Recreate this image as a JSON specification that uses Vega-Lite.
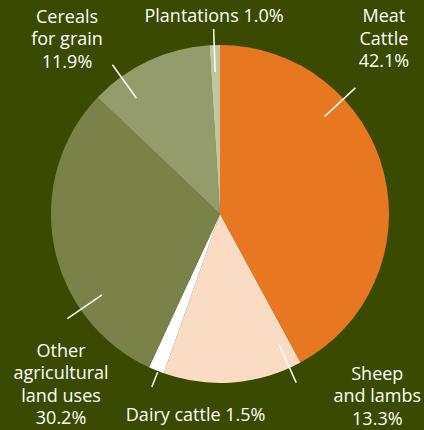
{
  "$schema": "https://vega.github.io/schema/vega-lite/v6.json",
  "width": 338,
  "height": 338,
  "autosize": {"type": "none"},
  "padding": {"left": 51, "top": 45, "right": 35, "bottom": 47},
  "background": "#3a4a00",
  "config": {"view": {"stroke": null}, "text": {"font": "Open Sans"}},
  "data": {
    "values": [
      {"category": "Meat cattle", "label": "Meat\nCattle\n42.1%", "pct": 42.1, "order": 1},
      {"category": "Sheep and lambs", "label": "Sheep\nand lambs\n13.3%", "pct": 13.3, "order": 2},
      {"category": "Dairy cattle", "label": "Dairy cattle 1.5%", "pct": 1.5, "order": 3},
      {"category": "Other agricultural land uses", "label": "Other\nagricultural\nland uses\n30.2%", "pct": 30.2, "order": 4},
      {"category": "Cereals for grain", "label": "Cereals\nfor grain\n11.9%", "pct": 11.9, "order": 5},
      {"category": "Plantations", "label": "Plantations 1.0%", "pct": 1.0, "order": 6}
    ]
  },
  "transform": [
    {"stack": "pct", "groupby": [], "sort": [{"field": "order", "order": "ascending"}], "as": ["t0", "t1"]},
    {"calculate": "(datum.t0 + datum.t1) / 2", "as": "mid"}
  ],
  "layer": [
    {
      "mark": {"type": "arc"},
      "encoding": {
        "theta": {"field": "t0", "type": "quantitative", "stack": null, "scale": {"domain": [0, 100], "range": [0, 6.283185307]}},
        "theta2": {"field": "t1"},
        "color": {
          "field": "category", "type": "nominal", "legend": null,
          "scale": {
            "domain": ["Meat cattle", "Sheep and lambs", "Dairy cattle", "Other agricultural land uses", "Cereals for grain", "Plantations"],
            "range": ["#e87722", "#fadbc4", "#ffffff", "#7a8249", "#959c6b", "#bfc7a3"]
          }
        }
      }
    },
    {
      "transform": [{"filter": "datum.order == 1"}],
      "layer": [
        {"mark": {"type": "text", "radius": 200, "dx": -30, "dy": -147.5, "fontSize": 18, "lineHeight": 22.5, "lineBreak": "\n", "color": "white", "align": "center", "baseline": "middle"},
         "encoding": {"theta": {"field": "mid", "type": "quantitative", "stack": null}, "text": {"field": "label"}}},
        {"mark": {"type": "arc", "radius": 185, "radius2": 143, "thetaOffset": -0.502, "theta2Offset": -0.502, "filled": false, "stroke": "white", "strokeWidth": 1.5},
         "encoding": {"theta": {"field": "mid", "type": "quantitative", "stack": null}, "theta2": {"field": "mid"}}}
      ]
    },
    {
      "transform": [{"filter": "datum.order == 2"}],
      "layer": [
        {"mark": {"type": "text", "radius": 195, "dx": 142, "dy": -33.5, "fontSize": 18, "lineHeight": 22.5, "lineBreak": "\n", "color": "white", "align": "center", "baseline": "middle"},
         "encoding": {"theta": {"field": "mid", "type": "quantitative", "stack": null}, "text": {"field": "label"}}},
        {"mark": {"type": "arc", "radius": 185, "radius2": 144, "thetaOffset": -0.346, "theta2Offset": -0.346, "filled": false, "stroke": "white", "strokeWidth": 1.5},
         "encoding": {"theta": {"field": "mid", "type": "quantitative", "stack": null}, "theta2": {"field": "mid"}}}
      ]
    },
    {
      "transform": [{"filter": "datum.order == 3"}],
      "layer": [
        {"mark": {"type": "text", "radius": 200, "dx": 51, "dy": 17, "fontSize": 18, "lineHeight": 22.5, "lineBreak": "\n", "color": "white", "align": "center", "baseline": "middle"},
         "encoding": {"theta": {"field": "mid", "type": "quantitative", "stack": null}, "text": {"field": "label"}}},
        {"mark": {"type": "arc", "radius": 186, "radius2": 170, "thetaOffset": -0.011, "theta2Offset": -0.011, "filled": false, "stroke": "white", "strokeWidth": 1.5},
         "encoding": {"theta": {"field": "mid", "type": "quantitative", "stack": null}, "theta2": {"field": "mid"}}}
      ]
    },
    {
      "transform": [{"filter": "datum.order == 4"}],
      "layer": [
        {"mark": {"type": "text", "radius": 200, "dx": 37.5, "dy": 100.5, "fontSize": 18, "lineHeight": 22.5, "lineBreak": "\n", "color": "white", "align": "center", "baseline": "middle"},
         "encoding": {"theta": {"field": "mid", "type": "quantitative", "stack": null}, "text": {"field": "label"}}},
        {"mark": {"type": "arc", "radius": 185, "radius2": 143, "thetaOffset": -0.412, "theta2Offset": -0.412, "filled": false, "stroke": "white", "strokeWidth": 1.5},
         "encoding": {"theta": {"field": "mid", "type": "quantitative", "stack": null}, "theta2": {"field": "mid"}}}
      ]
    },
    {
      "transform": [{"filter": "datum.order == 5"}],
      "layer": [
        {"mark": {"type": "text", "radius": 200, "dx": -68.4, "dy": -15.2, "fontSize": 18, "lineHeight": 22.5, "lineBreak": "\n", "color": "white", "align": "center", "baseline": "middle"},
         "encoding": {"theta": {"field": "mid", "type": "quantitative", "stack": null}, "text": {"field": "label"}}},
        {"mark": {"type": "arc", "radius": 184, "radius2": 143, "thetaOffset": -0.188, "theta2Offset": -0.188, "filled": false, "stroke": "white", "strokeWidth": 1.5},
         "encoding": {"theta": {"field": "mid", "type": "quantitative", "stack": null}, "theta2": {"field": "mid"}}}
      ]
    },
    {
      "transform": [{"filter": "datum.order == 6"}],
      "layer": [
        {"mark": {"type": "text", "radius": 200, "dx": 0.3, "dy": 2.9, "fontSize": 18, "lineHeight": 22.5, "lineBreak": "\n", "color": "white", "align": "center", "baseline": "middle"},
         "encoding": {"theta": {"field": "mid", "type": "quantitative", "stack": null}, "text": {"field": "label"}}},
        {"mark": {"type": "arc", "radius": 185, "radius2": 142, "thetaOffset": -0.003, "theta2Offset": -0.003, "filled": false, "stroke": "white", "strokeWidth": 1.5},
         "encoding": {"theta": {"field": "mid", "type": "quantitative", "stack": null}, "theta2": {"field": "mid"}}}
      ]
    }
  ]
}
